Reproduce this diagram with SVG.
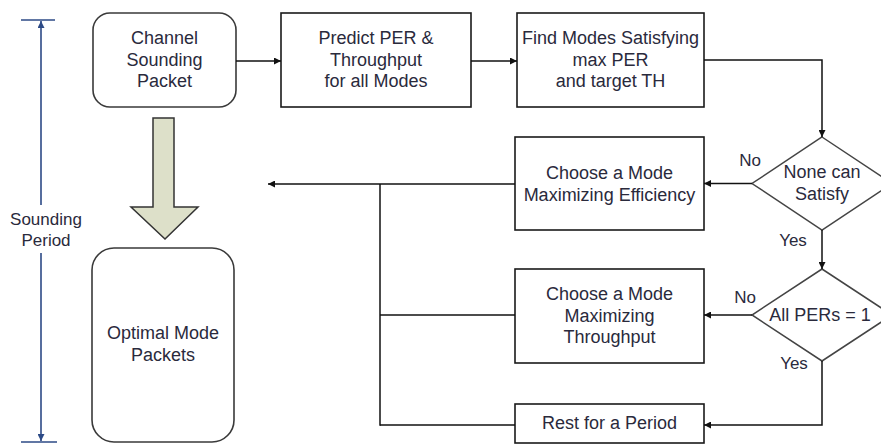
<svg xmlns="http://www.w3.org/2000/svg" width="881" height="444" viewBox="0 0 881 444">
<style>
  text { font-family: "Liberation Sans", Arial, sans-serif; font-size: 18px; fill: #2a2a3c; text-anchor: middle; }
  .box { fill: #ffffff; stroke: #1a1a1a; stroke-width: 1.6; }
  .rbox { fill: #ffffff; stroke: #3a3a3a; stroke-width: 1.6; }
  .dia { fill: #ffffff; stroke: #444444; stroke-width: 1.5; }
  .conn { fill: none; stroke: #111111; stroke-width: 1.5; }
  .period { fill: none; stroke: #2c4a86; stroke-width: 1.6; }
  .lbl { font-size: 17px; }
</style>
<defs>
  <marker id="ah" viewBox="0 0 10 10" refX="10" refY="5" markerWidth="8" markerHeight="7" markerUnits="userSpaceOnUse" orient="auto">
    <path d="M0,0 L10,5 L0,10 Z" fill="#111111"/>
  </marker>
  <marker id="ahb" viewBox="0 0 10 10" refX="10" refY="5" markerWidth="8" markerHeight="7" markerUnits="userSpaceOnUse" orient="auto">
    <path d="M0,0 L10,5 L0,10 Z" fill="#2c4a86"/>
  </marker>
</defs>

<g id="sounding-period">
  <line class="period" x1="21" y1="20" x2="55" y2="20"/>
  <line class="period" x1="41" y1="205" x2="41" y2="21" marker-end="url(#ahb)"/>
  <line class="period" x1="41" y1="253" x2="41" y2="441" marker-end="url(#ahb)"/>
  <line class="period" x1="21" y1="442" x2="57" y2="442"/>
  <text class="lbl" x="46" y="225">Sounding</text>
  <text class="lbl" x="46" y="246">Period</text>
</g>

<g id="channel-sounding">
  <rect class="rbox" x="93" y="13" width="143" height="94" rx="17" ry="17"/>
  <text x="164.5" y="44">Channel</text>
  <text x="164.5" y="65.5">Sounding</text>
  <text x="164.5" y="87">Packet</text>
</g>

<g id="big-arrow">
  <path d="M153,118 L174,118 L174,207 L198,207 L165,239 L131,207 L153,207 Z" fill="#dde0c9" stroke="#333333" stroke-width="1.5"/>
</g>

<g id="optimal-mode">
  <rect class="rbox" x="92" y="248" width="142" height="194" rx="22" ry="22"/>
  <text x="163" y="339">Optimal Mode</text>
  <text x="163" y="361">Packets</text>
</g>

<g id="predict">
  <rect class="box" x="281" y="13" width="190" height="94"/>
  <text x="376" y="44">Predict PER &amp;</text>
  <text x="376" y="65.5">Throughput</text>
  <text x="376" y="87">for all Modes</text>
</g>

<g id="find-modes">
  <rect class="box" x="517" y="13" width="187" height="94"/>
  <text x="610.5" y="44">Find Modes Satisfying</text>
  <text x="610.5" y="65.5">max PER</text>
  <text x="610.5" y="87">and target TH</text>
</g>

<g id="max-efficiency">
  <rect class="box" x="515" y="137" width="189" height="93"/>
  <text x="609.5" y="179">Choose a Mode</text>
  <text x="609.5" y="200.5">Maximizing Efficiency</text>
</g>

<g id="none-can-satisfy">
  <path class="dia" d="M822,137 L892,183.5 L822,230 L752,183.5 Z"/>
  <text x="822" y="178">None can</text>
  <text x="822" y="200">Satisfy</text>
</g>

<g id="all-pers">
  <path class="dia" d="M822,269 L892,315 L822,361 L752,315 Z"/>
  <text x="820" y="321">All PERs = 1</text>
</g>

<g id="max-throughput">
  <rect class="box" x="515" y="269" width="189" height="94"/>
  <text x="609.5" y="300">Choose a Mode</text>
  <text x="609.5" y="322">Maximizing</text>
  <text x="609.5" y="343">Throughput</text>
</g>

<g id="rest">
  <rect class="box" x="515" y="404" width="189" height="39"/>
  <text x="609.5" y="429">Rest for a Period</text>
</g>

<g id="connectors">
  <line class="conn" x1="236" y1="61" x2="281" y2="61" marker-end="url(#ah)"/>
  <line class="conn" x1="471" y1="61" x2="517" y2="61" marker-end="url(#ah)"/>
  <polyline class="conn" points="704,60 822,60 822,137" marker-end="url(#ah)"/>
  <line class="conn" x1="752" y1="183.5" x2="704" y2="183.5" marker-end="url(#ah)"/>
  <line class="conn" x1="515" y1="184" x2="268" y2="184" marker-end="url(#ah)"/>
  <line class="conn" x1="822" y1="230" x2="822" y2="269" marker-end="url(#ah)"/>
  <line class="conn" x1="752" y1="315" x2="704" y2="315" marker-end="url(#ah)"/>
  <line class="conn" x1="515" y1="315" x2="380" y2="315"/>
  <polyline class="conn" points="822,361 822,425 704,425" marker-end="url(#ah)"/>
  <line class="conn" x1="515" y1="425" x2="380" y2="425"/>
  <line class="conn" x1="380" y1="184" x2="380" y2="425.75"/>
  <text class="lbl" x="750" y="166">No</text>
  <text class="lbl" x="793" y="246">Yes</text>
  <text class="lbl" x="745" y="303">No</text>
  <text class="lbl" x="794" y="369">Yes</text>
</g>
</svg>
